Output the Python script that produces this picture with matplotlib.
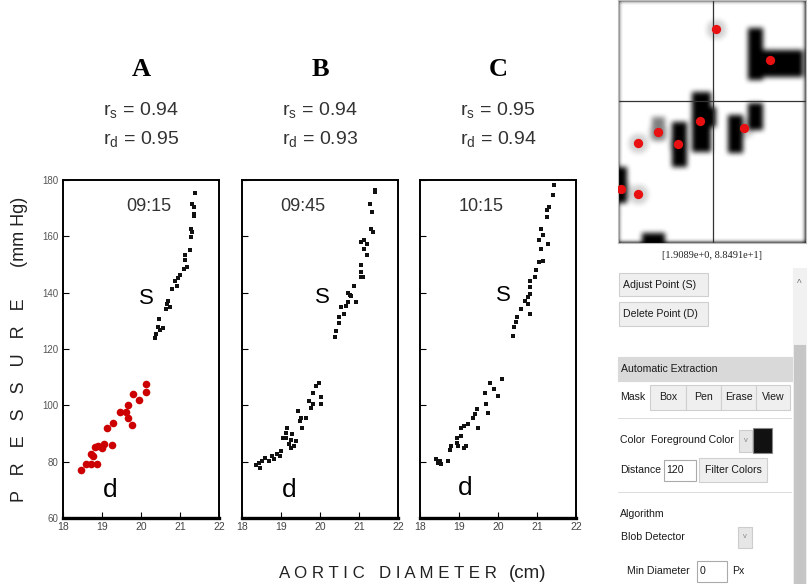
import matplotlib
matplotlib.use("Agg")
import matplotlib.pyplot as plt
import numpy as np
from matplotlib import font_manager
from matplotlib.patches import Rectangle

# fonts: narrow sans if the system has it
names = {f.name for f in font_manager.fontManager.ttflist}
NARROW = 'Liberation Sans Narrow' if 'Liberation Sans Narrow' in names else 'Liberation Sans'
SERIF = 'Liberation Serif'

W, H = 808, 584

# ---- data (x = aortic diameter cm, y = pressure mm Hg)
panel_names = ['A', 'B', 'C']
times = ['09:15', '09:45', '10:15']
r_s = ['0.94', '0.94', '0.95']
r_d = ['0.95', '0.93', '0.94']

a_d_x = [18.47, 18.58, 18.73, 18.86, 18.73, 18.77, 18.82, 18.90, 18.99, 19.06, 19.25, 19.12,
         19.29, 19.45, 19.62, 19.66, 19.66, 19.76, 19.79, 19.96, 20.12, 20.12]
a_d_y = [76.9, 79.2, 79.0, 79.0, 82.6, 82.0, 85.2, 85.5, 84.9, 86.4, 85.9, 91.8,
         93.8, 97.8, 97.8, 100.0, 95.6, 93.0, 104.2, 101.8, 107.5, 104.9]
a_s_x = [21.38, 21.31, 21.37, 21.35, 21.37, 21.27, 21.31, 21.29, 21.25, 21.12, 21.12, 21.18,
         21.10, 21.01, 20.94, 20.88, 20.92, 20.80, 20.68, 20.67, 20.65, 20.74, 20.45, 20.43,
         20.49, 20.39, 20.37, 20.56]
a_s_y = [175.4, 171.4, 170.4, 168.1, 167.2, 162.7, 161.5, 159.8, 155.2, 153.2, 151.7, 149.1,
         148.5, 146.1, 145.3, 144.3, 142.5, 141.4, 137.2, 136.0, 134.2, 134.8, 130.7, 127.7,
         126.7, 125.3, 123.9, 127.5]

b_d_x = [18.37, 18.43, 18.47, 18.52, 18.60, 18.69, 18.77, 18.82, 18.90, 18.97, 18.99, 19.06,
         19.12, 19.12, 19.16, 19.20, 19.25, 19.26, 19.29, 19.33, 19.38, 19.44, 19.48, 19.51,
         19.55, 19.63, 19.72, 19.76, 19.81, 19.81, 19.89, 19.98, 20.02, 20.02]
b_d_y = [78.8, 79.6, 77.8, 80.4, 81.4, 80.2, 82.0, 81.1, 82.6, 82.0, 83.8, 88.5,
         90.3, 88.5, 92.1, 86.1, 84.9, 87.6, 89.7, 85.5, 87.3, 98.0, 94.4, 95.6,
         92.1, 95.6, 101.6, 99.2, 100.4, 104.5, 106.9, 108.1, 103.0, 100.4]
b_s_x = [21.40, 21.40, 21.27, 21.33, 21.31, 21.35, 21.04, 21.14, 21.21, 21.14, 21.21, 21.04,
         21.04, 21.05, 21.09, 20.88, 20.78, 20.71, 20.80, 20.92, 20.54, 20.67, 20.62, 20.71,
         20.49, 20.48, 20.41, 20.38]
b_s_y = [176.6, 175.8, 171.6, 168.7, 162.7, 161.5, 158.0, 158.6, 157.4, 155.6, 153.2, 149.7,
         147.3, 145.7, 145.5, 142.2, 139.3, 139.8, 138.9, 136.6, 134.8, 135.4, 132.4, 136.6,
         131.3, 129.2, 126.5, 124.1]

c_d_x = [18.40, 18.47, 18.51, 18.55, 18.72, 18.77, 18.79, 18.94, 18.96, 18.98, 19.06, 19.06,
         19.13, 19.13, 19.19, 19.23, 19.36, 19.40, 19.45, 19.49, 19.66, 19.68, 19.74, 19.79,
         19.91, 20.00, 20.09]
c_d_y = [81.1, 79.6, 80.4, 79.0, 80.4, 84.3, 85.5, 86.7, 88.5, 85.5, 89.1, 92.1,
         92.7, 85.0, 85.5, 93.3, 95.6, 96.8, 98.6, 92.1, 104.5, 100.4, 97.4, 108.1,
         105.7, 103.3, 109.3]
c_s_x = [21.43, 21.40, 21.32, 21.26, 21.26, 21.11, 21.15, 21.06, 21.09, 21.28, 21.15, 21.04,
         20.98, 20.95, 20.81, 20.81, 20.81, 20.77, 20.68, 20.77, 20.81, 20.58, 20.49, 20.47,
         20.41, 20.38]
c_s_y = [178.2, 174.6, 170.4, 169.4, 166.8, 162.7, 160.3, 158.6, 155.6, 157.4, 151.4, 150.8,
         147.9, 145.7, 144.3, 141.9, 139.5, 138.3, 137.2, 136.0, 132.4, 134.2, 131.3, 129.5,
         127.7, 124.7]

d_sets = [(a_d_x, a_d_y), (b_d_x, b_d_y), (c_d_x, c_d_y)]
s_sets = [(a_s_x, a_s_y), (b_s_x, b_s_y), (c_s_x, c_s_y)]
d_colors = ['#cc0000', '#111111', '#111111']   # panel A d points are digitizer-marked in red

x_ticks = [18, 19, 20, 21, 22]
y_ticks = [60, 80, 100, 120, 140, 160, 180]
label_pos = [(20.19, 170.5), (19.55, 170.5), (19.57, 170.5)]
s_pos = [(20.13, 137.8), (20.06, 138.4), (20.13, 139.0)]
d_pos = [(19.2, 70.0), (19.2, 70.0), (19.15, 70.5)]

# ---- digitizer magnifier content (local pixel coords of the 188x243 window)
blobs = [(130, 28, 15, 52), (145, 50, 40, 27), (74, 92, 19, 60), (92, 107, 6, 20),
         (110, 115, 15, 38), (130, 103, 15, 27), (54, 122, 15, 45), (0, 167, 9, 36),
         (24, 233, 23, 10)]
faint_blobs = [(34, 117, 13, 23)]
mark_x = [98, 152, 82, 126, 40, 60, 20, 20, 3]
mark_y = [29, 60, 121, 128, 132, 144, 143, 194, 189]
cross_x, cross_y = 95, 101
coord_text = '[1.9089e+0, 8.8491e+1]'


def fx(x):
    return x / W


def fy(y):
    return 1 - y / H


fig = plt.figure(figsize=(W / 100, H / 100), dpi=100)
fig.patch.set_facecolor('white')

lefts = [63, 242, 420]
for i, left in enumerate(lefts):
    ax = fig.add_axes([fx(left), fy(518), 156 / W, (518 - 180) / H])
    ax.set_xlim(18, 22)
    ax.set_ylim(60, 180)
    ax.scatter(*s_sets[i], s=6, marker='s', color='#111111', linewidths=0, zorder=3)
    if i == 0:
        ax.scatter(*d_sets[i], s=30, color=d_colors[i], linewidths=0, zorder=3)
    else:
        ax.scatter(*d_sets[i], s=6, marker='s', color=d_colors[i], linewidths=0, zorder=3)
    ax.text(*label_pos[i], times[i], fontsize=13, family=NARROW, color='#333333',
            ha='center', va='center')
    ax.text(*s_pos[i], 'S', fontsize=16, family='Liberation Sans', ha='center', va='center')
    ax.text(*d_pos[i], 'd', fontsize=19, family='Liberation Sans', ha='center', va='center')
    ax.set_xticks(x_ticks)
    ax.set_yticks(y_ticks)
    ax.set_xticklabels([str(t) for t in x_ticks], family=NARROW, fontsize=7.5, color='#444444')
    if i == 0:
        ax.set_yticklabels([str(t) for t in y_ticks], family=NARROW, fontsize=7, color='#555555')
    else:
        ax.set_yticklabels([])
    ax.tick_params(direction='in', length=4, width=0.8, pad=3)
    for sp in ax.spines.values():
        sp.set_linewidth(1.4)
    ax.spines['bottom'].set_linewidth(2.4)

    cx = left + 78
    fig.text(fx(cx), fy(70), panel_names[i], fontsize=19, family=SERIF, weight='bold',
             ha='center', va='center')
    fig.text(fx(cx - 38), fy(111), r'r$_\mathregular{s}$ = ' + r_s[i], fontsize=14,
             family=NARROW, color='#333333', ha='left', va='center')
    fig.text(fx(cx - 38), fy(140), r'r$_\mathregular{d}$ = ' + r_d[i], fontsize=14,
             family=NARROW, color='#333333', ha='left', va='center')

# axis titles, spaced out like the scanned figure
fig.text(fx(20), fy(400), 'P   R   E   S   S   U   R   E', rotation=90, fontsize=13,
         family='Liberation Sans', ha='center', va='center', color='#222222')
fig.text(fx(20), fy(232), '(mm Hg)', rotation=90, fontsize=13,
         family='Liberation Sans', ha='center', va='center', color='#222222')
fig.text(fx(388), fy(574), 'A O R T I C   D I A M E T E R', fontsize=12.2,
         family='Liberation Sans', ha='center', va='center', color='#222222')
fig.text(fx(528), fy(574), '(cm)', fontsize=13.5,
         family='Liberation Sans', ha='center', va='center', color='#222222')

# ---- magnifier window
mag = fig.add_axes([fx(618), fy(243), 188 / W, 243 / H])
img = np.ones((243, 188))
yy, xx = np.mgrid[0:243, 0:188]
for mx, my in zip(mark_x, mark_y):
    img[np.hypot(xx - mx, yy - my) < 10] = 0.82
for bx, by, bw, bh in faint_blobs:
    img[by:by + bh, bx:bx + bw] = 0.5
for bx, by, bw, bh in blobs:
    img[by:by + bh, bx:bx + bw] = 0.0
k = np.ones(5) / 5
for _ in range(3):
    img = np.apply_along_axis(lambda r: np.convolve(r, k, mode='same'), 1, img)
    img = np.apply_along_axis(lambda c: np.convolve(c, k, mode='same'), 0, img)
mag.imshow(img, cmap='gray', vmin=0, vmax=1, extent=(0, 188, 243, 0), interpolation='bilinear')
mag.scatter(mark_x, mark_y, s=45, color='#e81010', linewidths=0, zorder=3)
mag.axvline(cross_x, color='#333333', lw=0.9)
mag.axhline(cross_y, color='#333333', lw=0.9)
mag.set_xlim(0, 188)
mag.set_ylim(243, 0)
mag.set_xticks([])
mag.set_yticks([])
for sp in mag.spines.values():
    sp.set_color('#bbbbbb')
    sp.set_linewidth(0.8)

fig.text(fx(712), fy(256), coord_text, fontsize=7.5, family=SERIF, ha='center', va='center',
         color='#222222')


def box(x0, y0, x1, y1, face='#efefef', edge='#cfcfcf', lw=0.8):
    fig.patches.append(Rectangle((fx(x0), fy(y1)), (x1 - x0) / W, (y1 - y0) / H,
                                 transform=fig.transFigure, facecolor=face, edgecolor=edge,
                                 linewidth=lw))


def ui_text(x, y, s, size=7.6, color='#1a1a1a', ha='left'):
    fig.text(fx(x), fy(y), s, fontsize=size, family=NARROW, color=color, ha=ha, va='center')


# scrollbar
box(793, 268, 806, 584, face='#f1f1f1', edge='#f1f1f1')
box(794, 345, 805, 584, face='#c6c6c6', edge='#c6c6c6')
ui_text(799, 284, '^', size=7, color='#777777', ha='center')

box(619, 273, 708, 296)
ui_text(623, 285, 'Adjust Point (S)')
box(619, 302, 708, 326)
ui_text(623, 314, 'Delete Point (D)')

box(618, 357, 792, 381, face='#d9d9d9', edge='#d9d9d9')
ui_text(621, 369, 'Automatic Extraction')

ui_text(620, 397, 'Mask')
for (x0, x1), lab in zip([(650, 686), (686, 721), (721, 756), (756, 790)],
                         ['Box', 'Pen', 'Erase', 'View']):
    box(x0, 385, x1, 410)
    ui_text((x0 + x1) / 2, 397, lab, ha='center')

box(618, 418, 792, 419, face='#dddddd', edge='#dddddd', lw=0)
ui_text(620, 440, 'Color  Foreground Color')
box(739, 430, 752, 452, face='#e6e6e6', edge='#cccccc')
ui_text(745.5, 440, 'v', size=5.5, color='#888888', ha='center')
box(753, 428, 772, 453, face='#111111', edge='#888888')

ui_text(620, 470, 'Distance')
box(664, 460, 696, 481, face='white', edge='#aaaaaa')
ui_text(666, 470, '120')
box(699, 458, 767, 482)
ui_text(733, 470, 'Filter Colors', ha='center')

box(618, 492, 792, 493, face='#dddddd', edge='#dddddd', lw=0)
ui_text(620, 514, 'Algorithm')
ui_text(621, 537, 'Blob Detector')
box(738, 527, 752, 548, face='#e6e6e6', edge='#cccccc')
ui_text(745, 537, 'v', size=5.5, color='#888888', ha='center')

ui_text(627, 571, 'Min Diameter')
box(697, 561, 727, 582, face='white', edge='#aaaaaa')
ui_text(700, 571, '0')
ui_text(732, 571, 'Px')

fig.savefig('out.png', dpi=100)
